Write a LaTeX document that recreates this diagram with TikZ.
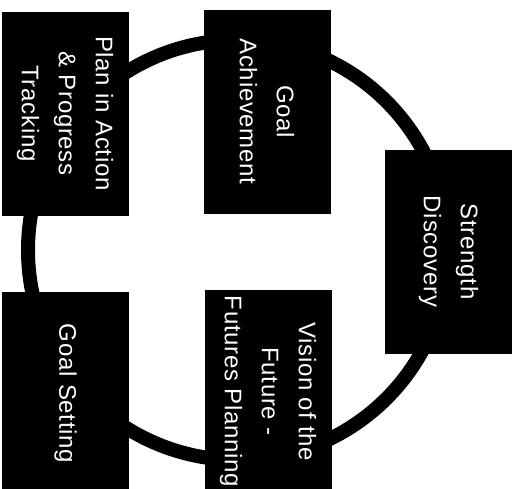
\documentclass[tikz,border=0pt]{standalone}
\usepackage{fontspec}
\setmainfont{Liberation Sans}[LetterSpace=3]
\usetikzlibrary{positioning}

\begin{document}
\begin{tikzpicture}[x=1pt, y=-1pt, stage/.style={draw=black, fill=black, text=white, rectangle, rotate=-90, minimum width=203pt, minimum height=126pt, align=center, font=\fontsize{24}{37}\selectfont}]
        \clip (0,0) rectangle (516,489);

        % Ring
        \coordinate (C) at (238,250);
        \draw[line width=14pt] (C) circle[radius=210pt];

        % Nodes
        \node[stage] (Plan) at (65,113.5) {Plan in Action\\\& Progress\\Tracking};
        \node[stage] (Achieve) at (267,111.5) {Goal\\Achievement};
        \node[stage] (Strength) at (448.5,251.5) {Strength\\Discovery};
        \node[stage] (Vision) at (268,391.5) {Vision of the\\Future -\\Futures Planning};
        \node[stage] (Setting) at (65.5,393.5) {Goal Setting};
\end{tikzpicture}
\end{document}
